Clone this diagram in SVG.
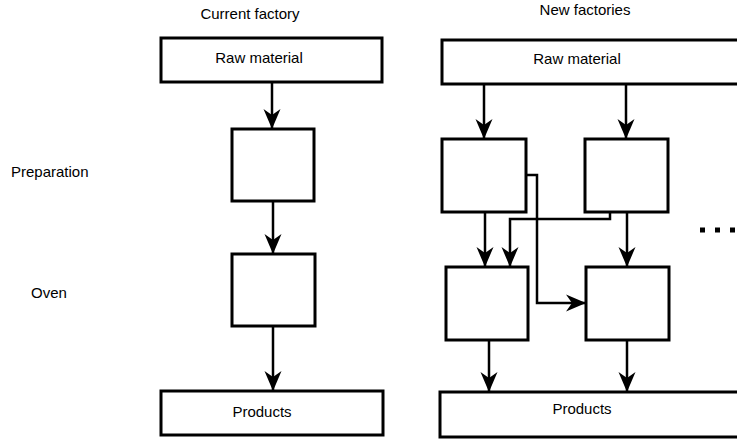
<svg xmlns="http://www.w3.org/2000/svg" width="737" height="439" viewBox="0 0 737 439">
  <style>
    .box { fill: #ffffff; stroke: #000000; stroke-width: 3; }
    .edge { fill: none; stroke: #000000; stroke-width: 2.5; }
    .lbl { font-family: "Liberation Sans", Arial, sans-serif; font-size: 15px; fill: #000000; }
    .mid { text-anchor: middle; }
  </style>
  <defs>
    <marker id="arrow" markerUnits="userSpaceOnUse" markerWidth="20" markerHeight="20" viewBox="0 0 20 20" refX="19" refY="10" orient="auto">
      <path d="M0,1.5 L20,10 L0,18.5 L6,10 Z" fill="#000000"/>
    </marker>
  </defs>
  <rect width="737" height="439" fill="#ffffff"/>

  <!-- column and row captions -->
  <g id="captions">
    <text class="lbl mid" x="250" y="19">Current factory</text>
    <text class="lbl mid" x="585" y="15">New factories</text>
    <text class="lbl" x="11" y="177">Preparation</text>
    <text class="lbl" x="31" y="298">Oven</text>
  </g>

  <!-- current factory -->
  <g id="cur-raw">
    <rect class="box" x="161" y="38" width="221" height="44"/>
    <text class="lbl mid" x="259" y="63">Raw material</text>
  </g>
  <g id="cur-prep">
    <rect class="box" x="232" y="129" width="82" height="72"/>
  </g>
  <g id="cur-oven">
    <rect class="box" x="232" y="254" width="83" height="72"/>
  </g>
  <g id="cur-products">
    <rect class="box" x="161" y="391" width="222" height="44"/>
    <text class="lbl mid" x="262" y="417">Products</text>
  </g>

  <!-- new factories -->
  <g id="new-raw">
    <rect class="box" x="442" y="40" width="310" height="44"/>
    <text class="lbl mid" x="577" y="64">Raw material</text>
  </g>
  <g id="new-prep-1">
    <rect class="box" x="442" y="139" width="84" height="73"/>
  </g>
  <g id="new-prep-2">
    <rect class="box" x="585" y="139" width="83" height="73"/>
  </g>
  <g id="new-oven-1">
    <rect class="box" x="446" y="267" width="82" height="73"/>
  </g>
  <g id="new-oven-2">
    <rect class="box" x="586" y="267" width="83" height="73"/>
  </g>
  <g id="new-products">
    <rect class="box" x="440" y="392" width="310" height="45"/>
    <text class="lbl mid" x="582" y="414">Products</text>
  </g>

  <!-- more factories -->
  <g id="more">
    <line x1="700" y1="230" x2="737" y2="230" stroke="#000000" stroke-width="5" stroke-dasharray="5 10"/>
  </g>

  <g id="connectors">
    <path class="edge" d="M272,82 V128" marker-end="url(#arrow)"/>
    <path class="edge" d="M273,201 V253" marker-end="url(#arrow)"/>
    <path class="edge" d="M273,326 V390" marker-end="url(#arrow)"/>

    <path class="edge" d="M484,84 V138" marker-end="url(#arrow)"/>
    <path class="edge" d="M626,84 V138" marker-end="url(#arrow)"/>
    <path class="edge" d="M485,212 V266" marker-end="url(#arrow)"/>
    <path class="edge" d="M610,212 V219 H510 V266" marker-end="url(#arrow)"/>
    <path class="edge" d="M526,175 H537 V303 H585" marker-end="url(#arrow)"/>
    <path class="edge" d="M627,212 V266" marker-end="url(#arrow)"/>
    <path class="edge" d="M489,340 V391" marker-end="url(#arrow)"/>
    <path class="edge" d="M627,340 V391" marker-end="url(#arrow)"/>
  </g>
</svg>
